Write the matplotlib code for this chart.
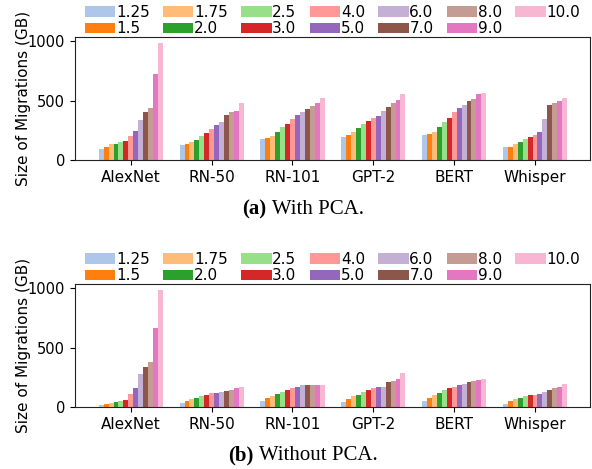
import numpy as np
import matplotlib
matplotlib.use("Agg")
import matplotlib.pyplot as plt

# Modeller og faktorer
models = ["AlexNet", "RN-50", "RN-101", "GPT-2", "BERT", "Whisper"]
factors = ["1.25", "1.5", "1.75", "2.0", "2.5", "3.0", "4.0",
           "5.0", "6.0", "7.0", "8.0", "9.0", "10.0"]

# Storrelse paa migrasjoner (GB), med PCA - en rad per modell
with_alexnet = [92, 109, 134, 134, 151, 160, 202, 244, 336, 403, 437, 723, 983]
with_rn50 = [126, 134, 151, 168, 202, 227, 260, 294, 319, 378, 403, 412, 479]
with_rn101 = [176, 185, 202, 235, 277, 303, 345, 378, 403, 429, 454, 479, 521]
with_gpt2 = [193, 210, 235, 269, 303, 328, 353, 370, 412, 445, 479, 504, 555]
with_bert = [210, 218, 235, 277, 319, 353, 403, 437, 462, 496, 513, 555, 563]
with_whisper = [109, 109, 134, 151, 176, 193, 210, 235, 345, 462, 479, 496, 521]

# Uten PCA
wo_alexnet = [14, 22, 31, 39, 47, 56, 106, 156, 281, 339, 381, 664, 981]
wo_rn50 = [31, 47, 64, 72, 89, 97, 114, 114, 122, 131, 147, 156, 172]
wo_rn101 = [47, 72, 89, 106, 122, 139, 156, 164, 181, 181, 181, 189, 189]
wo_gpt2 = [39, 64, 89, 97, 122, 139, 156, 172, 172, 214, 222, 239, 289]
wo_bert = [47, 72, 97, 114, 139, 156, 172, 189, 197, 206, 222, 231, 239]
wo_whisper = [22, 47, 64, 72, 89, 97, 97, 106, 122, 139, 156, 172, 197]

with_pca = np.array([with_alexnet, with_rn50, with_rn101,
                     with_gpt2, with_bert, with_whisper])
without_pca = np.array([wo_alexnet, wo_rn50, wo_rn101,
                        wo_gpt2, wo_bert, wo_whisper])

colors = [plt.cm.tab20(i) for i in range(1, 14)]

W, H = 592, 469
fig = plt.figure(figsize=(W / 100, H / 100), dpi=100)


def panel(top, bottom, data):
    ax = fig.add_axes([75 / W, 1 - bottom / H, 515 / W, (bottom - top) / H])
    x = np.arange(len(models))
    bw = 0.061
    n = len(factors)
    for j in range(n):
        ax.bar(x + (j - (n - 1) / 2) * bw, data[:, j], bw,
               color=colors[j], label=factors[j], linewidth=0)
    ax.set_xlim(-0.69, 5.68)
    ax.set_ylim(0, 1034)
    ax.set_yticks([0, 500, 1000])
    ax.set_xticks(x)
    ax.set_xticklabels(models, fontsize=11)
    ax.tick_params(axis="y", labelsize=10.5)
    ax.set_ylabel("Size of Migrations (GB)", fontsize=11, labelpad=-2)
    for s in ax.spines.values():
        s.set_color("#222222")
    ax.legend(loc="lower center", bbox_to_anchor=(0.5, 0.98), ncol=7,
              frameon=False, fontsize=11, handlelength=2.0,
              handletextpad=0.05, columnspacing=0.85, labelspacing=0.1,
              borderaxespad=0.1, borderpad=0.1)
    return ax


panel(37, 160, with_pca)
panel(284, 407, without_pca)


# Undertekster i serif-font, med fet bokstav
def caption(y, tag, text):
    cx = 303 / W
    t1 = fig.text(0, 1 - y / H, tag, fontfamily="Liberation Serif",
                  fontweight="bold", fontsize=15, va="center")
    t2 = fig.text(0, 1 - y / H, text, fontfamily="Liberation Serif",
                  fontsize=15, va="center")
    fig.canvas.draw()
    r = fig.canvas.get_renderer()
    w1 = t1.get_window_extent(r).width / W
    w2 = t2.get_window_extent(r).width / W
    start = cx - (w1 + w2) / 2
    t1.set_x(start)
    t2.set_x(start + w1)


caption(209, "(a)", " With PCA.")
caption(455, "(b)", " Without PCA.")

fig.savefig("out.png", dpi=100)
